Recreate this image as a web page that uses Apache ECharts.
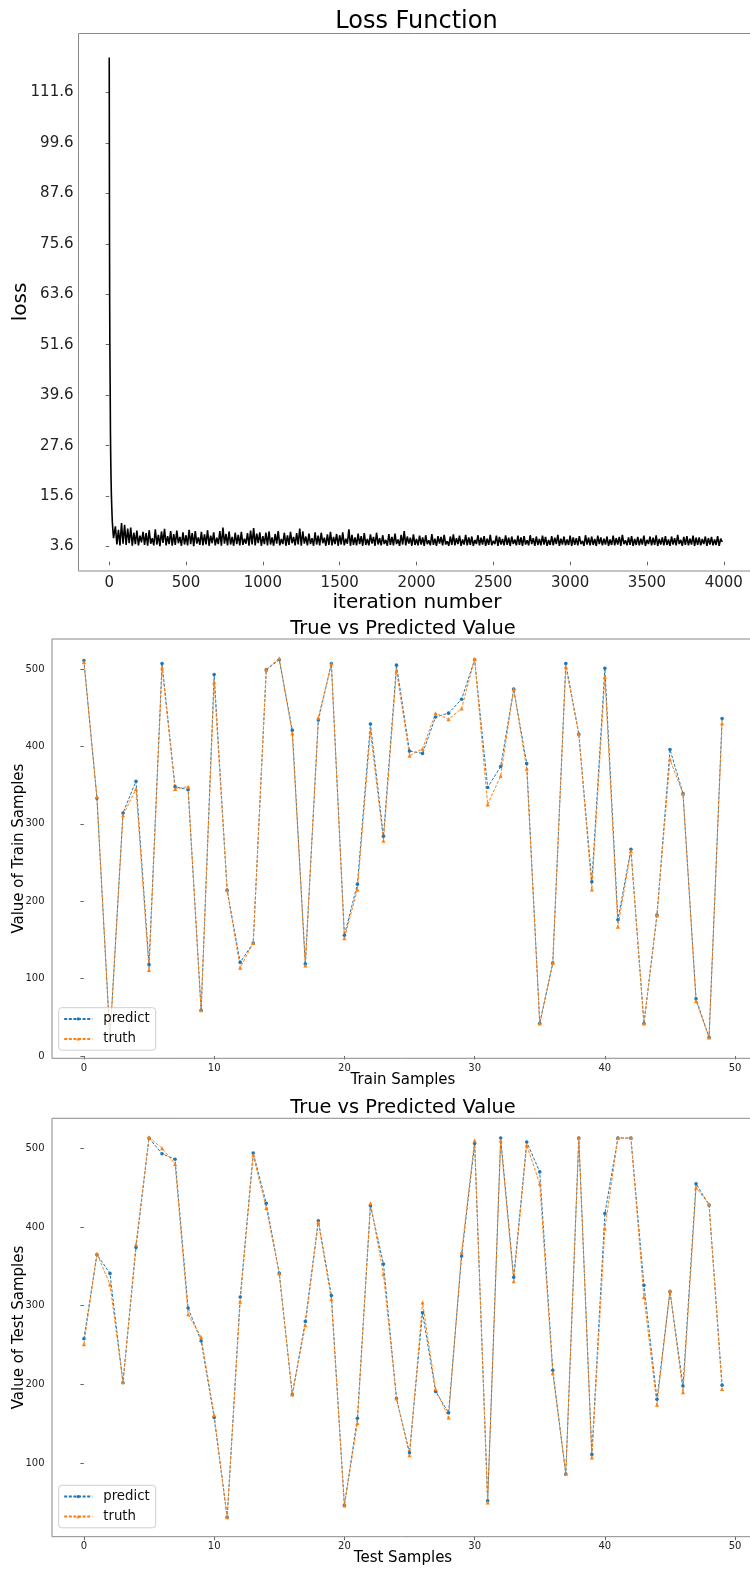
<!DOCTYPE html>
<html>
<head>
<meta charset="utf-8">
<script src="https://cdn.jsdelivr.net/npm/echarts@6/dist/echarts.min.js"></script>
<style>
html,body{margin:0;padding:0;background:#fff;}
#c{width:750px;height:1570px;}
</style>
</head>
<body>
<div id="c"></div>
<script>
// ---------- Loss curve ----------
const lossHeadIter = [0, 1, 2, 3, 4, 5, 6, 7, 8, 10, 12, 14, 17, 20, 24, 28];
const lossHeadValue = [119.9, 96.0, 74.5, 61.0, 52.5, 47.0, 42.5, 36.0, 30.5, 24.0, 19.5, 16.0, 12.5, 9.6, 7.4, 5.6];
const lossBandStart = 30;
const lossBandStep = 10;
const lossBandValue = [
 5.2, 8.4, 4.1, 7.6, 3.9, 9.2, 4.3, 8.8, 4.0, 7.9, 4.4, 8.1, 3.8, 6.9, 4.2, 7.4, 3.9, 6.2, 4.6, 7.1,
 4.0, 6.8, 3.8, 7.5, 4.3, 5.6, 3.9, 7.7, 4.1, 6.4, 3.7, 7.2, 4.5, 7.8, 3.9, 6.1, 4.2, 7.3, 3.8, 6.6,
 4.0, 7.4, 4.4, 5.9, 3.8, 7.0, 4.1, 6.3, 3.9, 7.6, 4.2, 6.8, 3.7, 7.3, 4.3, 5.8, 4.0, 7.1, 3.9, 6.5,
 4.1, 7.5, 3.8, 6.2, 4.4, 7.0, 3.9, 5.7, 4.2, 7.3, 3.8, 8.1, 4.3, 6.6, 3.9, 7.2, 4.1, 5.9, 3.8, 6.9,
 4.2, 6.4, 3.9, 7.1, 4.0, 5.5, 4.3, 6.8, 3.8, 7.4, 4.1, 8.0, 3.9, 6.7, 4.4, 7.0, 3.8, 6.1, 4.2, 6.9,
 3.9, 7.2, 4.1, 5.8, 3.8, 6.6, 4.3, 7.3, 3.9, 5.4, 4.2, 6.9, 3.8, 6.3, 4.0, 7.1, 4.4, 5.9, 3.9, 6.8,
 4.1, 7.9, 3.8, 7.2, 4.3, 6.0, 3.9, 6.7, 4.2, 5.6, 3.8, 7.0, 4.1, 6.2, 3.9, 6.9, 4.4, 5.7, 3.8, 6.5,
 4.0, 7.1, 3.9, 5.9, 4.2, 6.6, 3.8, 6.3, 4.1, 7.0, 3.9, 5.5, 4.3, 7.7, 3.8, 6.4, 4.0, 5.8, 3.9, 6.7,
 4.2, 6.1, 3.8, 6.8, 4.0, 5.4, 3.9, 6.5, 4.3, 5.9, 3.8, 6.9, 4.1, 5.6, 3.9, 6.3, 4.2, 5.2, 3.8, 6.6,
 4.0, 5.9, 3.9, 6.7, 4.2, 5.3, 3.8, 6.4, 4.1, 7.3, 3.9, 6.0, 4.3, 5.7, 3.8, 6.5, 4.0, 5.4, 3.9, 6.2,
 4.1, 5.8, 3.8, 6.3, 4.2, 5.1, 3.9, 6.6, 4.0, 5.5, 3.8, 6.1, 4.3, 5.9, 3.9, 6.4, 4.1, 4.9, 3.8, 6.0,
 4.0, 6.5, 3.9, 5.6, 4.2, 6.2, 3.8, 5.3, 4.1, 6.4, 3.9, 5.8, 4.0, 6.0, 3.8, 5.2, 4.2, 6.3, 3.9, 5.7,
 4.1, 6.1, 3.8, 5.5, 4.0, 6.4, 3.9, 5.0, 4.2, 6.2, 3.8, 5.9, 4.1, 5.4, 3.9, 6.3, 4.0, 5.7, 3.8, 6.0,
 4.2, 5.3, 3.9, 6.2, 4.0, 5.8, 3.8, 6.1, 4.1, 5.1, 3.9, 6.3, 4.2, 5.6, 3.8, 6.0, 4.0, 5.4, 3.9, 6.2,
 4.1, 5.9, 3.8, 5.2, 4.0, 6.1, 3.9, 5.7, 4.2, 6.4, 3.8, 5.5, 4.1, 6.0, 3.9, 5.3, 4.0, 6.2, 3.8, 5.8,
 4.0, 5.6, 3.9, 6.1, 4.2, 5.0, 3.8, 6.3, 4.1, 5.7, 3.9, 6.0, 4.0, 5.4, 3.8, 6.2, 4.2, 5.8, 3.9, 5.5,
 4.1, 6.0, 3.8, 5.3, 4.0, 6.2, 3.9, 5.6, 4.1, 5.9, 3.8, 6.4, 4.2, 5.1, 3.9, 5.8, 4.0, 6.1, 3.8, 5.4,
 4.0, 5.9, 3.9, 5.5, 4.1, 6.2, 3.8, 5.2, 4.2, 6.0, 3.9, 5.7, 4.0, 6.3, 3.8, 5.4, 4.1, 5.8, 3.9, 6.1,
 4.0, 5.3, 3.8, 6.0, 4.1, 5.6, 3.9, 6.4, 4.2, 5.2, 3.8, 5.9, 4.0, 6.1, 3.9, 5.5, 4.1, 6.2, 3.8, 5.7,
 4.0, 5.8, 3.9, 5.4, 4.2, 6.0, 3.8, 5.6, 4.1, 5.9, 3.9, 5.3, 4.0, 6.1, 3.8, 5.5, 4.7
];
const lossYTicks = [3.6, 15.6, 27.6, 39.6, 51.6, 63.6, 75.6, 87.6, 99.6, 111.6];
const lossXTicks = [0, 500, 1000, 1500, 2000, 2500, 3000, 3500, 4000];

// ---------- Train samples ----------
const trainPredict = [511, 333, 22, 314, 355, 118, 507, 348, 344, 59,
  493, 214, 121, 146, 499, 512, 421, 119, 434, 507,
  156, 222, 429, 284, 505, 394, 391, 438, 443, 461,
  512, 347, 374, 474, 378, 42, 120, 507, 416, 225,
  501, 176, 267, 42, 182, 396, 339, 74, 24, 436];
const trainTruth = [509, 335, 22, 311, 345, 111, 502, 345, 348, 59,
  483, 214, 114, 146, 499, 514, 417, 117, 437, 507,
  152, 215, 419, 278, 498, 388, 397, 443, 435, 449,
  513, 325, 362, 474, 371, 42, 120, 503, 416, 215,
  490, 167, 265, 42, 182, 383, 339, 71, 24, 430];

// ---------- Test samples ----------
const testPredict = [258, 365, 341, 202, 374, 513, 493, 486, 297, 255,
  158, 31, 311, 494, 430, 341, 187, 280, 408, 313,
  46, 157, 427, 353, 182, 113, 291, 191, 164, 363,
  506, 52, 513, 336, 508, 470, 218, 86, 513, 111,
  417, 513, 513, 326, 181, 318, 198, 455, 428, 199];
const testTruth = [251, 366, 327, 203, 378, 514, 500, 480, 289, 260,
  161, 31, 305, 491, 424, 341, 187, 275, 406, 308,
  46, 151, 430, 340, 182, 110, 304, 194, 158, 368,
  510, 50, 510, 331, 504, 455, 214, 86, 513, 107,
  398, 513, 513, 311, 174, 319, 190, 450, 429, 194];

const sampleXTicks = [0, 10, 20, 30, 40, 50];
const sampleYTicks = [0, 100, 200, 300, 400, 500];
const sampleYTicksTest = [100, 200, 300, 400, 500];

// ---------- build ----------
const lossData = [];
for (let i = 0; i < lossHeadIter.length; i++) lossData.push([lossHeadIter[i], lossHeadValue[i]]);
for (let i = 0; i < lossBandValue.length; i++) lossData.push([lossBandStart + i * lossBandStep, lossBandValue[i]]);

const pairs = (arr) => arr.map((v, i) => [i, v]);

const FONT = "'DejaVu Sans', sans-serif";
const FRAME = '#8a8a8a';
const BLUE = '#1f77b4';
const ORANGE = '#ff7f0e';

const GRIDS = [
  { left: 78.5, top: 33.5, width: 676, height: 537.5 },
  { left: 52, top: 639, width: 702, height: 419.3 },
  { left: 52, top: 1118.3, width: 702, height: 418.4 }
];

function gridDef(g) {
  return { left: g.left, top: g.top, width: g.width, height: g.height, show: false,
    containLabel: false, outerBoundsMode: 'none' };
}
function frameDef(g) {
  return { type: 'rect', z: 50, silent: true,
    shape: { x: g.left, y: g.top, width: g.width, height: g.height },
    style: { fill: 'none', stroke: FRAME, lineWidth: 1 } };
}
function valAxis(gridIndex, min, max, ticks, fontSize, margin, fmt) {
  return {
    type: 'value', gridIndex, min, max,
    axisLine: { show: false },
    splitLine: { show: false },
    axisTick: { show: true, length: 3.5, lineStyle: { color: '#666', width: 1 }, customValues: ticks },
    axisLabel: { fontFamily: FONT, fontSize, color: '#222', margin, customValues: ticks,
      formatter: fmt || (v => String(v)), showMinLabel: true, showMaxLabel: true, hideOverlap: false }
  };
}

const lineSeries = (name, data, xi, yi, color, symbol, size) => ({
  name, type: 'line', xAxisIndex: xi, yAxisIndex: yi, data,
  symbol, symbolSize: size, showSymbol: true,
  lineStyle: { color, width: 1, type: [3, 1.6] },
  itemStyle: { color, borderWidth: 0 },
  animation: false, z: 3
});

const legendDef = (top) => ({
  orient: 'vertical', left: 58.7, top,
  data: ['predict', 'truth'],
  padding: [4.5, 6, 4.5, 4.5],
  itemWidth: 28, itemHeight: 4, itemGap: 6.5,
  backgroundColor: 'rgba(255,255,255,0.8)',
  borderColor: '#cfcfcf', borderWidth: 1, borderRadius: 3,
  textStyle: { fontFamily: FONT, fontSize: 13.3, color: '#111', lineHeight: 13.5, padding: [0, 0, 0, 6] },
  selectedMode: false
});

const txt = (text, x, y, size, rot) => ({
  type: 'text', x, y, rotation: rot || 0, z: 100,
  style: { text, x: 0, y: 0, align: 'center', verticalAlign: 'middle', font: size + 'px ' + FONT, fill: '#000' }
});

const option = {
  animation: false,
  backgroundColor: '#fff',
  grid: GRIDS.map(gridDef),
  xAxis: [
    valAxis(0, -200, 4200, lossXTicks, 15, 5),
    valAxis(1, -2.45, 51.45, sampleXTicks, 10, 5),
    valAxis(2, -2.45, 51.45, sampleXTicks, 10, 5)
  ],
  yAxis: [
    valAxis(0, -2.2, 125.6, lossYTicks, 15, 5, v => v.toFixed(1)),
    valAxis(1, -3, 538.8, sampleYTicks, 10, 7.5),
    valAxis(2, 6.4, 538.1, sampleYTicksTest, 10, 7.5)
  ],
  legend: [legendDef(1007.7), legendDef(1485.3)],
  series: [
    { name: 'loss', type: 'line', xAxisIndex: 0, yAxisIndex: 0, data: lossData, showSymbol: false, symbol: 'none',
      lineStyle: { color: '#000', width: 1.6 }, animation: false },
    lineSeries('predict', pairs(trainPredict), 1, 1, BLUE, 'circle', 3.6),
    lineSeries('truth', pairs(trainTruth), 1, 1, ORANGE, 'triangle', 4),
    lineSeries('predict', pairs(testPredict), 2, 2, BLUE, 'circle', 3.6),
    lineSeries('truth', pairs(testTruth), 2, 2, ORANGE, 'triangle', 4)
  ],
  graphic: GRIDS.map(frameDef).concat([
    txt('Loss Function', 416.5, 22.2, 24),
    txt('loss', 21, 302, 20, Math.PI / 2),
    txt('iteration number', 417, 602.4, 20),
    txt('True vs Predicted Value', 403, 629.2, 19.4),
    txt('Value of Train Samples', 19, 848.6, 15, Math.PI / 2),
    txt('Train Samples', 403, 1080, 15),
    txt('True vs Predicted Value', 403, 1108.2, 19.4),
    txt('Value of Test Samples', 19, 1327.5, 15, Math.PI / 2),
    txt('Test Samples', 403, 1558.5, 15)
  ])
};

const chart = echarts.init(document.getElementById('c'), null, { renderer: 'canvas' });
chart.setOption(option);
</script>
</body>
</html>
